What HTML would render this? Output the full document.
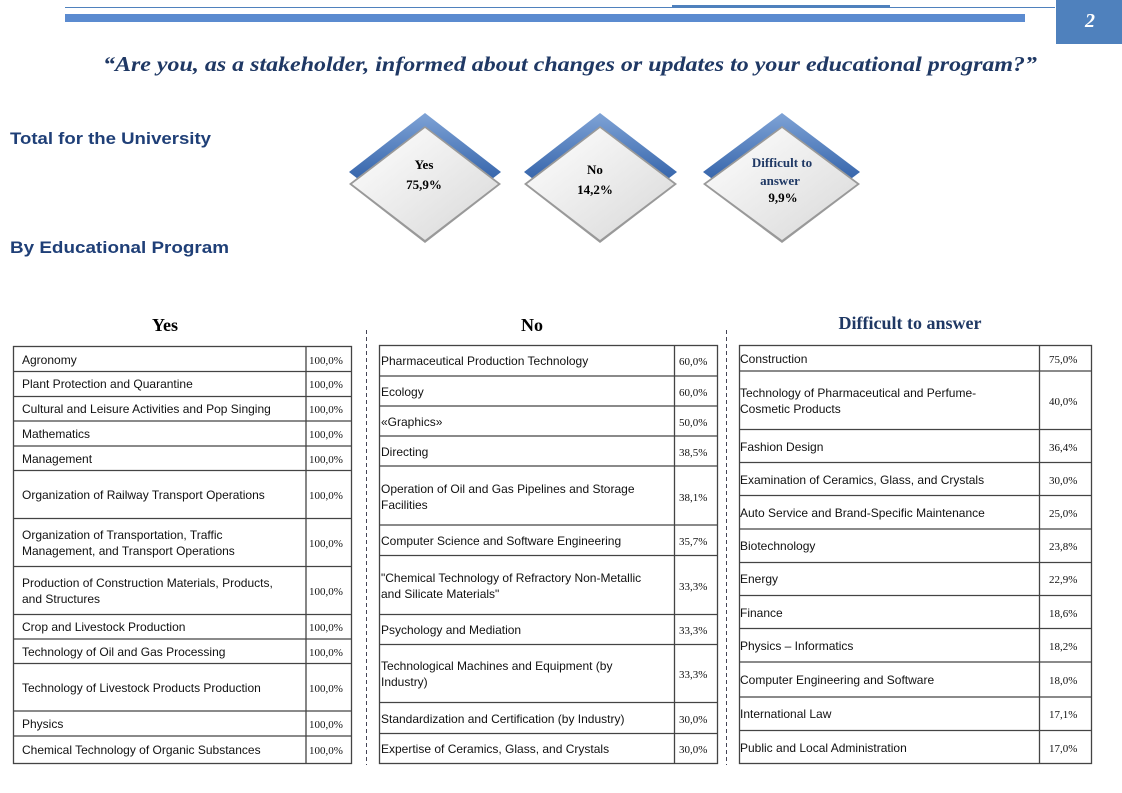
<!DOCTYPE html>
<html><head><meta charset="utf-8"><style>
html,body{margin:0;padding:0;background:#fff;}
svg{display:block;}
.l{font-family:"Liberation Sans",sans-serif;font-size:12px;fill:#111;}
.p{font-family:"Liberation Serif",serif;font-size:11px;fill:#111;}
</style></head><body>
<svg width="1122" height="793" viewBox="0 0 1122 793" xmlns="http://www.w3.org/2000/svg">
<defs>
<linearGradient id="bg" x1="0" y1="0" x2="0" y2="1"><stop offset="0" stop-color="#7fa3d6"/><stop offset="0.5" stop-color="#3e6cb0"/><stop offset="1" stop-color="#1f4a8a"/></linearGradient>
<linearGradient id="wg" x1="0" y1="0" x2="1" y2="1"><stop offset="0" stop-color="#ffffff"/><stop offset="1" stop-color="#d8d8d8"/></linearGradient>
</defs>
<line x1="65" y1="7.5" x2="1055" y2="7.5" stroke="#4f81bd" stroke-width="1"/>
<line x1="672" y1="6" x2="890" y2="6" stroke="#4f81bd" stroke-width="2"/>
<rect x="65" y="14" width="960" height="8" fill="#5b8bd0"/>
<rect x="1056" y="0" width="66" height="44" fill="#4f81bd"/>
<text x="1085" y="27" font-family="Liberation Serif,serif" font-style="italic" font-weight="bold" font-size="20" fill="#fff">2</text>
<text x="103" y="71" textLength="934" lengthAdjust="spacingAndGlyphs" font-family="Liberation Serif,serif" font-style="italic" font-weight="bold" font-size="21" fill="#1f3864">“Are you, as a stakeholder, informed about changes or updates to your educational program?”</text>
<text x="10" y="144" textLength="201" lengthAdjust="spacingAndGlyphs" font-family="Liberation Sans,sans-serif" font-weight="bold" font-size="17" fill="#1f3f77">Total for the University</text>
<text x="10" y="253" textLength="219" lengthAdjust="spacingAndGlyphs" font-family="Liberation Sans,sans-serif" font-weight="bold" font-size="17" fill="#1f3f77">By Educational Program</text>

<g>
<polygon points="425,113 501,172 425,231 349,172" fill="url(#bg)"/>
<polygon points="425,126 501,184 425,243 349,184" fill="#999"/>
<polygon points="425,128 498,184 425,240 352,184" fill="url(#wg)"/>
<text x="424" y="169" text-anchor="middle" font-family="Liberation Serif,serif" font-weight="bold" font-size="13">Yes</text>
<text x="424" y="189" text-anchor="middle" font-family="Liberation Serif,serif" font-weight="bold" font-size="13">75,9%</text>
</g>
<g>
<polygon points="600,113 677,172 600,231 524,172" fill="url(#bg)"/>
<polygon points="600,126 677,184 600,243 524,184" fill="#999"/>
<polygon points="600,128 674,184 600,240 527,184" fill="url(#wg)"/>
<text x="595" y="174" text-anchor="middle" font-family="Liberation Serif,serif" font-weight="bold" font-size="13">No</text>
<text x="595" y="194" text-anchor="middle" font-family="Liberation Serif,serif" font-weight="bold" font-size="13">14,2%</text>
</g>
<g>
<polygon points="782,113 860,172 782,231 703,172" fill="url(#bg)"/>
<polygon points="782,126 860,184 782,243 703,184" fill="#999"/>
<polygon points="782,128 857,184 782,240 706,184" fill="url(#wg)"/>
<text x="782" y="167" text-anchor="middle" font-family="Liberation Serif,serif" font-weight="bold" font-size="13" fill="#1f3864">Difficult to</text>
<text x="780" y="185" text-anchor="middle" font-family="Liberation Serif,serif" font-weight="bold" font-size="13" fill="#1f3864">answer</text>
<text x="783" y="202" text-anchor="middle" font-family="Liberation Serif,serif" font-weight="bold" font-size="13">9,9%</text>
</g>

<text x="165" y="331" text-anchor="middle" font-family="Liberation Serif,serif" font-weight="bold" font-size="18">Yes</text>
<text x="532" y="331" text-anchor="middle" font-family="Liberation Serif,serif" font-weight="bold" font-size="18">No</text>
<text x="910" y="329" text-anchor="middle" font-family="Liberation Serif,serif" font-weight="bold" font-size="18" fill="#1f3864">Difficult  to  answer</text>
<line x1="366.5" y1="330" x2="366.5" y2="765" stroke="#445" stroke-dasharray="4,3"/>
<line x1="726.5" y1="330" x2="726.5" y2="765" stroke="#445" stroke-dasharray="4,3"/>

<g fill="none" stroke="#444" stroke-width="1.3">
<rect x="13.5" y="346.5" width="338" height="417"/>
<line x1="306" y1="346.5" x2="306" y2="763.5"/>
<path d="M13.5 371.5H351.5M13.5 396.5H351.5M13.5 421H351.5M13.5 446H351.5M13.5 470.5H351.5M13.5 518.5H351.5M13.5 566.5H351.5M13.5 614.5H351.5M13.5 639H351.5M13.5 663.5H351.5M13.5 711H351.5M13.5 736H351.5"/>
</g>
<text class="l" x="22" y="364">Agronomy</text>
<text class="l" x="22" y="388">Plant Protection and Quarantine</text>
<text class="l" x="22" y="413">Cultural  and Leisure  Activities and Pop Singing</text>
<text class="l" x="22" y="438">Mathematics</text>
<text class="l" x="22" y="463">Management</text>
<text class="l" x="22" y="499">Organization  of Railway Transport  Operations</text>
<text class="l" x="22" y="539">Organization  of Transportation,  Traffic</text>
<text class="l" x="22" y="555">Management,  and Transport  Operations</text>
<text class="l" x="22" y="587">Production of Construction Materials, Products,</text>
<text class="l" x="22" y="603">and Structures</text>
<text class="l" x="22" y="631">Crop  and Livestock Production</text>
<text class="l" x="22" y="656">Technology  of Oil and Gas Processing</text>
<text class="l" x="22" y="692">Technology  of Livestock Products Production</text>
<text class="l" x="22" y="728">Physics</text>
<text class="l" x="22" y="754">Chemical Technology  of Organic  Substances</text>
<text class="p" x="309" y="364">100,0%</text><text class="p" x="309" y="388">100,0%</text><text class="p" x="309" y="413">100,0%</text><text class="p" x="309" y="438">100,0%</text><text class="p" x="309" y="463">100,0%</text><text class="p" x="309" y="499">100,0%</text><text class="p" x="309" y="547">100,0%</text><text class="p" x="309" y="595">100,0%</text><text class="p" x="309" y="631">100,0%</text><text class="p" x="309" y="656">100,0%</text><text class="p" x="309" y="692">100,0%</text><text class="p" x="309" y="728">100,0%</text><text class="p" x="309" y="754">100,0%</text>

<g fill="none" stroke="#444" stroke-width="1.3">
<rect x="379.5" y="345.5" width="338" height="418"/>
<line x1="674.5" y1="345.5" x2="674.5" y2="763.5"/>
<path d="M379.5 376H717.5M379.5 406H717.5M379.5 436H717.5M379.5 466H717.5M379.5 525H717.5M379.5 555.5H717.5M379.5 614.5H717.5M379.5 644.5H717.5M379.5 702.5H717.5M379.5 733.5H717.5"/>
</g>
<text class="l" x="381" y="365">Pharmaceutical  Production  Technology</text>
<text class="l" x="381" y="396">Ecology</text>
<text class="l" x="381" y="426">«Graphics»</text>
<text class="l" x="381" y="456">Directing</text>
<text class="l" x="381" y="493">Operation  of Oil and Gas Pipelines  and Storage</text>
<text class="l" x="381" y="509">Facilities</text>
<text class="l" x="381" y="545">Computer  Science and Software  Engineering</text>
<text class="l" x="381" y="582">"Chemical Technology  of Refractory  Non-Metallic</text>
<text class="l" x="381" y="598">and  Silicate Materials"</text>
<text class="l" x="381" y="634">Psychology and  Mediation</text>
<text class="l" x="381" y="670">Technological  Machines  and Equipment  (by</text>
<text class="l" x="381" y="686">Industry)</text>
<text class="l" x="381" y="723">Standardization  and Certification  (by Industry)</text>
<text class="l" x="381" y="753">Expertise of Ceramics,  Glass,  and Crystals</text>
<text class="p" x="679" y="365">60,0%</text><text class="p" x="679" y="396">60,0%</text><text class="p" x="679" y="426">50,0%</text><text class="p" x="679" y="456">38,5%</text><text class="p" x="679" y="501">38,1%</text><text class="p" x="679" y="545">35,7%</text><text class="p" x="679" y="590">33,3%</text><text class="p" x="679" y="634">33,3%</text><text class="p" x="679" y="678">33,3%</text><text class="p" x="679" y="723">30,0%</text><text class="p" x="679" y="753">30,0%</text>

<g fill="none" stroke="#444" stroke-width="1.3">
<rect x="739.5" y="345.5" width="352" height="418"/>
<line x1="1039.5" y1="345.5" x2="1039.5" y2="763.5"/>
<path d="M739.5 371H1091.5M739.5 429.5H1091.5M739.5 462.5H1091.5M739.5 495.5H1091.5M739.5 529H1091.5M739.5 562.5H1091.5M739.5 595.5H1091.5M739.5 628.5H1091.5M739.5 662H1091.5M739.5 697H1091.5M739.5 730.5H1091.5"/>
</g>
<text class="l" x="740" y="363">Construction</text>
<text class="l" x="740" y="397">Technology  of Pharmaceutical  and Perfume-</text>
<text class="l" x="740" y="413">Cosmetic  Products</text>
<text class="l" x="740" y="451">Fashion  Design</text>
<text class="l" x="740" y="484">Examination  of Ceramics,  Glass,  and Crystals</text>
<text class="l" x="740" y="517">Auto Service  and Brand-Specific  Maintenance</text>
<text class="l" x="740" y="550">Biotechnology</text>
<text class="l" x="740" y="583">Energy</text>
<text class="l" x="740" y="617">Finance</text>
<text class="l" x="740" y="650">Physics – Informatics</text>
<text class="l" x="740" y="684">Computer  Engineering  and Software</text>
<text class="l" x="740" y="718">International  Law</text>
<text class="l" x="740" y="752">Public and Local  Administration</text>
<text class="p" x="1049" y="363">75,0%</text><text class="p" x="1049" y="405">40,0%</text><text class="p" x="1049" y="451">36,4%</text><text class="p" x="1049" y="484">30,0%</text><text class="p" x="1049" y="517">25,0%</text><text class="p" x="1049" y="550">23,8%</text><text class="p" x="1049" y="583">22,9%</text><text class="p" x="1049" y="617">18,6%</text><text class="p" x="1049" y="650">18,2%</text><text class="p" x="1049" y="684">18,0%</text><text class="p" x="1049" y="718">17,1%</text><text class="p" x="1049" y="752">17,0%</text>
</svg>
</body></html>
